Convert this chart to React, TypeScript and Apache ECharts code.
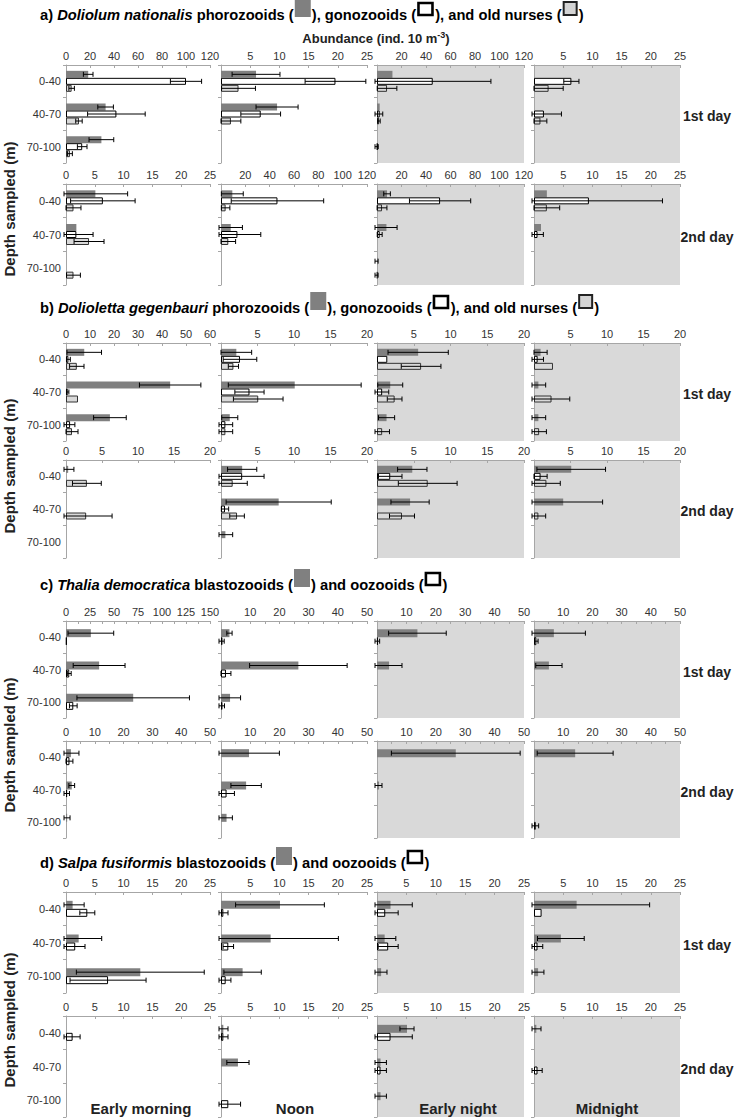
import React, { useEffect, useRef } from "react";
import * as echarts from "echarts";

const depths = ["0-40", "40-70", "70-100"];
const times = ["Early morning", "Noon", "Early night", "Midnight"];
const days = ["1st day", "2nd day"];

// All value arrays are indexed [day][time][depth]
// a) Doliolum nationalis
const aPhoroMean = [
  [[18.5, 33, 29.5], [6, 9.6, null], [12.6, 2.2, null], [null, null, null]],
  [[5.1, 1.8, null], [9.3, 8, null], [8.2, 7.7, 0.4], [2.2, 1.2, null]],
];
const aPhoroSd = [
  [[4, 6.5, 10.3], [4.1, 3.6, 0], [0, 0, 0], [0, 0, 0]],
  [[5.6, 0, 0], [9, 9.6, 0], [2.7, 8.7, 0.5], [0, 0, 0]],
];
const aGonoMean = [
  [[100, 42, 13.5], [19.6, 6.8, null], [45.5, 2.2, 0.4], [6.4, 1.7, null]],
  [[6.4, 1.8, null], [46.4, 13.5, null], [51.5, 2.2, null], [9.4, 0.6, null]],
];
const aGonoSd = [
  [[13, 24, 4], [5.2, 3.4, 0], [47.5, 2.5, 0.6], [1.3, 3, 0]],
  [[5.6, 2.9, 0], [38, 19.2, 0], [25, 2, 0], [12.6, 1, 0]],
];
const aNurseMean = [
  [[4.7, 10.8, 3.3], [3, 1.7, null], [8.2, 1.6, null], [2.5, 1.1, null]],
  [[1.3, 4, 1.3], [3.8, 6, null], [4.1, null, 0.4], [2.2, null, null]],
];
const aNurseSd = [
  [[2.3, 2.7, 2], [2.9, 1.7, 0], [8, 1, 0], [2.5, 1.1, 0]],
  [[1.3, 2.6, 1.2], [3.5, 6, 0], [4, 0, 0.5], [2.2, 0, 0]],
];
const aMax = [[120, 25, 120, 25], [25, 120, 120, 25]];
const aStep = [[20, 5, 20, 5], [5, 20, 20, 5]];

// b) Dolioletta gegenbauri
const bPhoroMean = [
  [[7.6, 43.4, 18.3], [2.1, 10.1, 1.2], [5.6, 1.8, 1.3], [0.9, 0.6, 0.6]],
  [[0.3, null, null], [2.9, 7.9, 0.6], [4.8, 4.5, null], [5.1, 4, null]],
];
const bPhoroSd = [
  [[7.2, 12.8, 6.8], [2.1, 9.1, 1.1], [4.1, 1.7, 1.1], [0.9, 1, 1]],
  [[0.8, 0, 0], [2, 7.2, 1], [2, 2.6, 0], [4.7, 5.4, 0]],
];
const bGonoMean = [
  [[1, 0.7, 1.7], [2.6, 3.9, 0.6], [1.4, 0.7, null], [0.5, null, null]],
  [[null, null, null], [2.9, 0.55, null], [1.8, null, null], [0.9, null, null]],
];
const bGonoSd = [
  [[0.8, 0.5, 2], [2.3, 2, 1], [0, 0.9, 0], [0.8, 0, 0]],
  [[0, 0, 0], [3, 0.5, 0], [1.6, 0, 0], [0.9, 0, 0]],
];
const bNurseMean = [
  [[4.5, 5, 2.5], [1.7, 5.1, 0.6], [6, 2.4, 0.7], [2.6, 2.4, 0.7]],
  [[2.9, 2.8, null], [1.6, 2.2, null], [6.9, 3.4, null], [1.7, 0.6, null]],
];
const bNurseSd = [
  [[3, 0, 2.5], [0.7, 3.4, 1], [2.7, 1, 1], [0, 2.5, 1]],
  [[2, 3.6, 0], [2, 1, 0], [4, 1.7, 0], [1.9, 1, 0]],
];
const bMax = [[60, 20, 20, 20], [20, 20, 20, 20]];
const bStep = [[10, 5, 5, 5], [5, 5, 5, 5]];

// c) Thalia democratica
const cBlastoMean = [
  [[25.9, 34.5, 70], [2.9, 26.5, 3.1], [13.75, 4.1, null], [6.8, 5.1, null]],
  [[1.7, 2, 0.4], [9.6, 8.6, 1.9], [26.8, 0.7, null], [14.1, null, null]],
];
const cBlastoSd = [
  [[23.8, 27, 58.6], [0.9, 16.7, 3.6], [9.8, 4.4, 0], [10.8, 4.5, 0]],
  [[2.8, 1, 1], [10.4, 5.2, 2], [21.9, 1, 0], [13, 0, 0]],
];
const cOoMean = [
  [[0.7, 3.4, 7.6], [0.5, 1.7, 0.5], [0.3, null, null], [0.8, null, null]],
  [[1.2, 0.4, null], [null, 1.9, null], [null, null, null], [null, null, 0.6]],
];
const cOoSd = [
  [[0, 2, 4], [0.6, 1.7, 0.7], [0.6, 0, 0], [0.6, 0, 0]],
  [[1.2, 0.8, 0], [0, 2.7, 0], [0, 0, 0], [0, 0, 1]],
];
const cMax = [[150, 50, 50, 50], [50, 50, 50, 50]];
const cStep = [[25, 10, 10, 10], [10, 10, 10, 10]];

// d) Salpa fusiformis
const dBlastoMean = [
  [[1.15, 2.2, 12.9], [10.1, 8.5, 3.7], [2.3, 1.3, 0.7], [7.3, 4.6, 0.7]],
  [[null, null, null], [0.4, 2.9, null], [5.1, 0.6, 0.6], [0.4, null, null]],
];
const dBlastoSd = [
  [[2, 4, 11.1], [7.6, 11.6, 3.2], [3.7, 1.9, 1], [12.5, 4, 1]],
  [[0, 0, 0], [0.8, 1.9, 0], [1.2, 1, 1], [0.8, 0, 0]],
];
const dOoMean = [
  [[3.7, 1.6, 7.3], [0.4, 1.25, 0.8], [1.4, 1.9, null], [1.3, 0.6, null]],
  [[1.15, null, null], [0.4, null, 1.25], [2.3, 0.6, null], [null, 0.6, null]],
];
const dOoSd = [
  [[1.3, 1.7, 6.6], [0.8, 0.9, 0.9], [2.2, 1.7, 0], [0, 0.9, 0]],
  [[1.3, 0, 0], [0.8, 0, 2.1], [3.7, 1, 0], [0, 0.8, 0]],
];
const dMax = [[25, 25, 25, 25], [25, 25, 25, 25]];
const dStep = [[5, 5, 5, 5], [5, 5, 5, 5]];

// Title pieces: "/" marks italic text, "#D" "#W" "#L" are legend swatches
const aTitle = ["a) ", "/Doliolum nationalis", " phorozooids (", "#D", "), gonozooids (", "#W", "), and old nurses (", "#L", ")"];
const bTitle = ["b) ", "/Dolioletta gegenbauri", " phorozooids (", "#D", "), gonozooids (", "#W", "), and old nurses (", "#L", ")"];
const cTitle = ["c) ", "/Thalia democratica", " blastozooids (", "#D", ") and oozooids (", "#W", ")"];
const dTitle = ["d) ", "/Salpa fusiformis", " blastozooids (", "#D", ") and oozooids (", "#W", ")"];

const FONT = "'Liberation Sans', Arial, Helvetica, sans-serif";
const AXIS = "#a6a6a6";
const LABEL = "#333333";

const barStyles: Record<string, any> = {
  dark: { color: "#808080" },
  white: { color: "#ffffff", borderColor: "#000000", borderWidth: 1 },
  light: { color: "#d9d9d9", borderColor: "#333333", borderWidth: 1 },
};

const colLeft = [66, 221, 377, 534];
const colRight = [210, 367, 524, 680];

const sections = [
  {
    series: [
      { mean: aPhoroMean, sd: aPhoroSd, kind: "dark" },
      { mean: aGonoMean, sd: aGonoSd, kind: "white" },
      { mean: aNurseMean, sd: aNurseSd, kind: "light" },
    ],
    max: aMax, step: aStep, rows: [[65, 163], [184, 285]], minor: false,
    titleY: 15, depthY: 209, title: aTitle,
  },
  {
    series: [
      { mean: bPhoroMean, sd: bPhoroSd, kind: "dark" },
      { mean: bGonoMean, sd: bGonoSd, kind: "white" },
      { mean: bNurseMean, sd: bNurseSd, kind: "light" },
    ],
    max: bMax, step: bStep, rows: [[343, 441], [460, 558]], minor: false,
    titleY: 308, depthY: 466, title: bTitle,
  },
  {
    series: [
      { mean: cBlastoMean, sd: cBlastoSd, kind: "dark" },
      { mean: cOoMean, sd: cOoSd, kind: "white" },
    ],
    max: cMax, step: cStep, rows: [[621, 718], [741, 838]], minor: true,
    titleY: 585, depthY: 745, title: cTitle,
  },
  {
    series: [
      { mean: dBlastoMean, sd: dBlastoSd, kind: "dark" },
      { mean: dOoMean, sd: dOoSd, kind: "white" },
    ],
    max: dMax, step: dStep, rows: [[892, 993], [1016, 1117]], minor: false,
    titleY: 863, depthY: 1020, title: dTitle,
  },
];

const timeLabelX = [141, 295, 458, 607];

function makeErr(offset: number) {
  return (params: any, api: any) => {
    const v = api.value(0);
    const c = api.value(1);
    const e = api.value(2);
    const a = api.coord([Math.max(v - e, 0), c]);
    const b = api.coord([v + e, c]);
    const x0 = v - e < 0 ? a[0] - 2 : a[0];
    const y = a[1] + offset;
    const style = { stroke: "#000", lineWidth: 1 };
    return {
      type: "group",
      children: [
        { type: "line", shape: { x1: x0, y1: y, x2: b[0], y2: y }, style },
        { type: "line", shape: { x1: x0, y1: y - 2.5, x2: x0, y2: y + 2.5 }, style },
        { type: "line", shape: { x1: b[0], y1: y - 2.5, x2: b[0], y2: y + 2.5 }, style },
      ],
    };
  };
}

let measureCtx: CanvasRenderingContext2D | null = null;
function measure(text: string, italic: boolean, size: number) {
  if (!measureCtx) measureCtx = document.createElement("canvas").getContext("2d");
  if (!measureCtx) return text.length * size * 0.55;
  measureCtx.font = `${italic ? "italic " : ""}bold ${size}px ${FONT}`;
  return measureCtx.measureText(text).width;
}

function buildTitle(parts: string[], y: number) {
  const size = 14.7;
  const out: any[] = [];
  let x = 40;
  parts.forEach((p) => {
    if (p[0] === "#") {
      const k = p[1];
      if (k === "D") {
        out.push({ type: "rect", shape: { x: x + 1, y: y - 16, width: 16, height: 18 }, style: { fill: "#808080" } });
        x += 18;
      } else if (k === "W") {
        out.push({ type: "rect", shape: { x: x + 2.3, y: y - 12, width: 14, height: 12 }, style: { fill: "#ffffff", stroke: "#000", lineWidth: 2.6 } });
        x += 19;
      } else {
        out.push({ type: "rect", shape: { x: x + 2, y: y - 13, width: 13, height: 13 }, style: { fill: "#d4d4d4", stroke: "#222", lineWidth: 2 } });
        x += 17;
      }
    } else {
      const italic = p[0] === "/";
      const t = italic ? p.slice(1) : p;
      out.push({
        type: "text",
        x,
        y,
        style: {
          text: t,
          fontSize: size,
          fontWeight: "bold",
          fontStyle: italic ? "italic" : "normal",
          fontFamily: FONT,
          fill: "#000",
          align: "left",
          verticalAlign: "middle",
        },
      });
      x += measure(t, italic, size);
    }
  });
  return out;
}

function buildOption() {
  const grid: any[] = [];
  const xAxis: any[] = [];
  const yAxis: any[] = [];
  const series: any[] = [];
  const graphic: any[] = [];
  let gi = 0;
  sections.forEach((sec) => {
    for (let d = 0; d < 2; d++) {
      for (let t = 0; t < 4; t++) {
        const [top, bottom] = sec.rows[d];
        grid.push({
          left: colLeft[t],
          top,
          width: colRight[t] - colLeft[t],
          height: bottom - top,
          show: t >= 2,
          backgroundColor: "#d9d9d9",
          borderWidth: 0,
        });
        xAxis.push({
          gridIndex: gi,
          type: "value",
          position: "top",
          min: 0,
          max: sec.max[d][t],
          interval: sec.step[d][t],
          axisLine: { show: true, lineStyle: { color: AXIS, width: 1 } },
          axisTick: { show: true, inside: true, length: 3, lineStyle: { color: AXIS } },
          minorTick: { show: sec.minor, splitNumber: 2, length: 3, lineStyle: { color: AXIS } },
          splitLine: { show: false },
          axisLabel: {
            showMinLabel: t === 0,
            showMaxLabel: true,
            fontSize: 11,
            color: LABEL,
            margin: 4,
            fontFamily: FONT,
          },
        });
        yAxis.push({
          gridIndex: gi,
          type: "category",
          data: depths,
          inverse: true,
          axisLine: { show: true, lineStyle: { color: AXIS, width: 1 } },
          axisTick: { show: true, length: 3, lineStyle: { color: AXIS } },
          splitLine: { show: false },
          axisLabel: { show: t === 0, fontSize: 11, color: LABEL, margin: 5, fontFamily: FONT },
        });
        const n = sec.series.length;
        const w = n === 3 ? 7 : 8;
        sec.series.forEach((s) => {
          series.push({
            type: "bar",
            xAxisIndex: gi,
            yAxisIndex: gi,
            barWidth: w,
            barGap: "0%",
            silent: true,
            itemStyle: barStyles[s.kind],
            data: s.mean[d][t].map((v: any) => (v == null ? "-" : v)),
          });
        });
        sec.series.forEach((s, k) => {
          const offset = -(n * w) / 2 + (k + 0.5) * w;
          const data: any[] = [];
          s.mean[d][t].forEach((v: any, c: number) => {
            const e = s.sd[d][t][c];
            if (v != null && e > 0) data.push([v, c, e]);
          });
          if (data.length) {
            series.push({
              type: "custom",
              xAxisIndex: gi,
              yAxisIndex: gi,
              silent: true,
              z: 5,
              clip: false,
              data,
              renderItem: makeErr(offset),
            });
          }
        });
        gi++;
      }
      const [top, bottom] = sec.rows[d];
      graphic.push({
        type: "text",
        x: 707,
        y: (top + bottom) / 2 + 2,
        style: {
          text: days[d],
          fontSize: 14,
          fontWeight: "bold",
          fontFamily: FONT,
          fill: "#222",
          align: "center",
          verticalAlign: "middle",
        },
      });
    }
    graphic.push(...buildTitle(sec.title, sec.titleY));
    graphic.push({
      type: "text",
      x: 9,
      y: sec.depthY,
      rotation: Math.PI / 2,
      style: {
        text: "Depth sampled (m)",
        fontSize: 15,
        fontWeight: "bold",
        fontFamily: FONT,
        fill: "#222",
        align: "center",
        verticalAlign: "middle",
      },
    });
  });

  graphic.push({
    type: "text",
    x: 376,
    y: 38,
    style: {
      text: "Abundance (ind. 10 m{sup|-3}{b|)}",
      rich: {
        sup: { fontSize: 9, fontWeight: "bold", fontFamily: FONT, fill: "#222", verticalAlign: "top", lineHeight: 10 },
        b: { fontSize: 13, fontWeight: "bold", fontFamily: FONT, fill: "#222", lineHeight: 16 },
      },
      fontSize: 13,
      fontWeight: "bold",
      fontFamily: FONT,
      fill: "#222",
      lineHeight: 16,
      align: "center",
      verticalAlign: "middle",
    },
  });

  times.forEach((tm, i) => {
    graphic.push({
      type: "text",
      x: timeLabelX[i],
      y: 1108,
      z: 100,
      style: {
        text: tm,
        fontSize: 15,
        fontWeight: "bold",
        fontFamily: FONT,
        fill: "#222",
        align: "center",
        verticalAlign: "middle",
      },
    });
  });

  return {
    animation: false,
    backgroundColor: "#ffffff",
    grid,
    xAxis,
    yAxis,
    series,
    graphic,
  };
}

export default function App() {
  const ref = useRef<HTMLDivElement>(null);
  useEffect(() => {
    if (!ref.current) return;
    const chart = echarts.init(ref.current, undefined, { renderer: "svg" });
    chart.setOption(buildOption() as any);
    return () => chart.dispose();
  }, []);
  return (
    <div
      ref={ref}
      style={{ position: "absolute", left: 0, top: 0, width: 738, height: 1119 }}
    />
  );
}
